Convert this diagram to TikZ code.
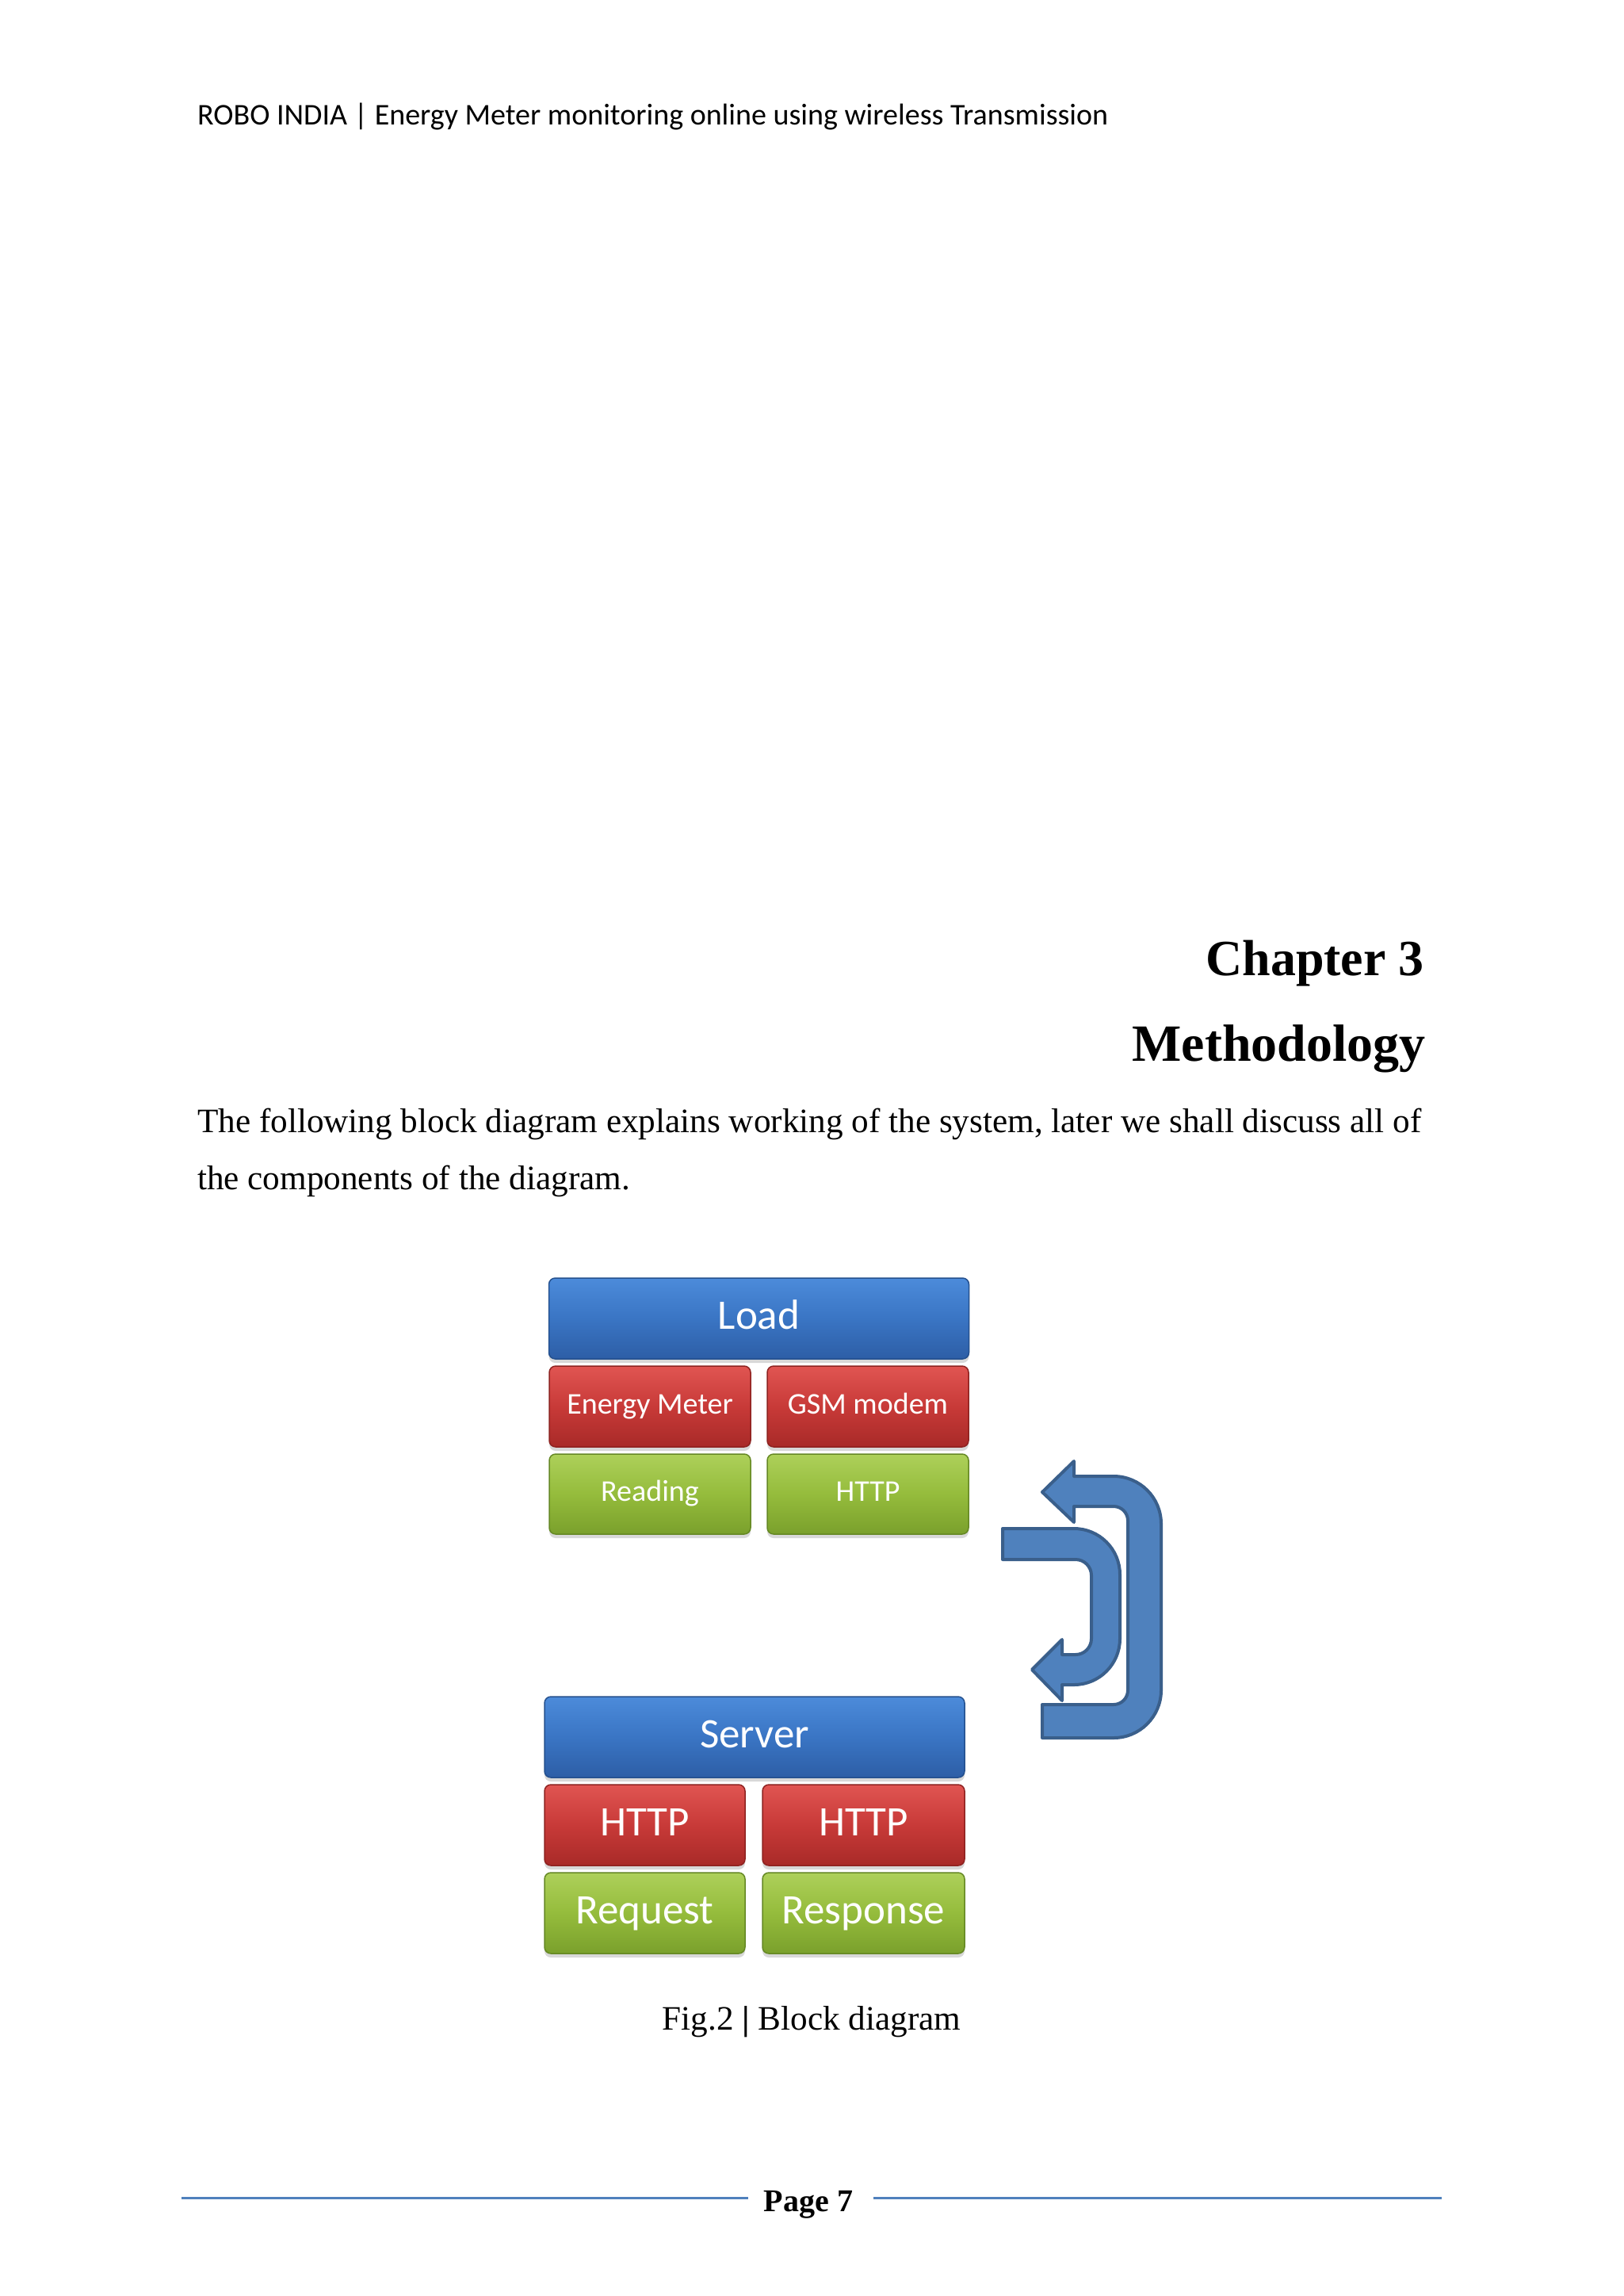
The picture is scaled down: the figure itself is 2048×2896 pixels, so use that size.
\documentclass[tikz,border=0pt]{standalone}
\usepackage{fontspec}
\setmainfont{Liberation Serif}
\newfontfamily\calibri{Carlito}
\usetikzlibrary{shadows}
\definecolor{arrowfill}{HTML}{4F81BD}
\definecolor{arrowdraw}{HTML}{3A5F8B}
\definecolor{bluetop}{HTML}{4C8BDA}
\definecolor{bluemid}{HTML}{3A75C4}
\definecolor{bluebot}{HTML}{2D5EA6}
\definecolor{blueline}{HTML}{24508E}
\definecolor{redtop}{HTML}{E05552}
\definecolor{redmid}{HTML}{C83A38}
\definecolor{redbot}{HTML}{A82A28}
\definecolor{redline}{HTML}{8E2220}
\definecolor{greentop}{HTML}{ADD05A}
\definecolor{greenmid}{HTML}{95BC3C}
\definecolor{greenbot}{HTML}{7AA02C}
\definecolor{greenline}{HTML}{658824}
\definecolor{ruleblue}{HTML}{4F81BD}
\tikzset{
  boxbase/.style={rounded corners=8pt, line width=1.5pt, inner sep=0pt,
    text=white, drop shadow={shadow xshift=0pt, shadow yshift=-5pt, opacity=0.3}},
  bluebox/.style={boxbase, draw=blueline, top color=bluetop, bottom color=bluebot, middle color=bluemid},
  redbox/.style={boxbase, draw=redline, top color=redtop, bottom color=redbot, middle color=redmid},
  greenbox/.style={boxbase, draw=greenline, top color=greentop, bottom color=greenbot, middle color=greenmid},
  bigtxt/.style={font=\calibri\fontsize{53}{60}\selectfont, text height=37pt, text depth=11pt},
  smalltxt/.style={font=\calibri\fontsize{38}{44}\selectfont, text height=26.5pt, text depth=8pt},
  uarrow/.style={fill=arrowfill, draw=arrowdraw, line width=4pt, line join=round},
  pagetext/.style={inner sep=0pt},
  bodyfont/.style={font=\fontsize{43.2}{50}\selectfont},
}
\begin{document}
\begin{tikzpicture}[x=1pt,y=-1pt]
\useasboundingbox (0,0) rectangle (2048,2896);
\fill[white] (0,0) rectangle (2048,2896);

% header
\node[pagetext, anchor=base west, font=\calibri\fontsize{38}{45}\selectfont] (hdr) at (249,157)
  {ROBO INDIA | Energy Meter monitoring online using wireless Transmission};

% chapter title
\node[pagetext, anchor=base east, font=\bfseries\fontsize{64}{70}\selectfont] (chap) at (1797,1230) {Chapter 3};
\node[pagetext, anchor=base east, font=\bfseries\fontsize{66}{72}\selectfont] (meth) at (1799,1338) {Methodology};

% body text
\node[pagetext, bodyfont, anchor=base west] (body1) at (249,1428)
  {The following block diagram explains working of the system, later we shall discuss all of};
\node[pagetext, bodyfont, anchor=base west] (body2) at (249,1500)
  {the components of the diagram.};

% upper block group
\node[bluebox, bigtxt, minimum width=530pt, minimum height=102pt] (load) at (957.5,1663) {Load};
\node[redbox, smalltxt, minimum width=254pt, minimum height=102pt] (em) at (820,1774) {Energy Meter};
\node[redbox, smalltxt, minimum width=254pt, minimum height=102pt] (gsm) at (1095,1774) {GSM modem};
\node[greenbox, smalltxt, minimum width=254pt, minimum height=101pt] (rd) at (820,1884.5) {Reading};
\node[greenbox, smalltxt, minimum width=254pt, minimum height=101pt] (http1) at (1095,1884.5) {HTTP};

% lower block group
\node[bluebox, bigtxt, minimum width=530pt, minimum height=102pt] (server) at (952,2191) {Server};
\node[redbox, bigtxt, minimum width=253pt, minimum height=102pt] (http2) at (813.5,2302) {HTTP};
\node[redbox, bigtxt, minimum width=255pt, minimum height=102pt] (http3) at (1089.5,2302) {HTTP};
\node[greenbox, bigtxt, minimum width=253pt, minimum height=102pt] (req) at (813.5,2413) {Request};
\node[greenbox, bigtxt, minimum width=255pt, minimum height=102pt] (resp) at (1089.5,2413) {Response};

% outer U-turn arrow (tail bottom-left, head top-left)
\draw[uarrow] (1315,2192) -- (1405,2192)
  .. controls (1438.1,2192) and (1465,2165.1) .. (1465,2132)
  -- (1465,1922)
  .. controls (1465,1888.9) and (1438.1,1862) .. (1405,1862)
  -- (1355,1862) -- (1355,1843) -- (1315,1882) -- (1355,1920) -- (1355,1900)
  -- (1405,1900)
  .. controls (1414.9,1900) and (1423,1908.1) .. (1423,1918)
  -- (1423,2132)
  .. controls (1423,2141.9) and (1414.9,2150) .. (1405,2150)
  -- (1315,2150) -- cycle;

% inner U-turn arrow (tail top-left, head bottom-left)
\draw[uarrow] (1265,1928) -- (1355,1928)
  .. controls (1387,1928) and (1413,1954) .. (1413,1986)
  -- (1413,2067)
  .. controls (1413,2099) and (1387,2125) .. (1355,2125)
  -- (1340,2125) -- (1340,2145) -- (1302,2106) -- (1340,2068) -- (1340,2087)
  -- (1357,2087)
  .. controls (1368,2087) and (1377,2078) .. (1377,2067)
  -- (1377,1987)
  .. controls (1377,1976) and (1368,1967) .. (1357,1967)
  -- (1265,1967) -- cycle;

% caption
\node[pagetext, bodyfont, anchor=base] (cap) at (1024,2560)
  {Fig.2 \textbf{|} Block diagram};

% footer
\node[pagetext, anchor=base, font=\bfseries\fontsize{40}{48}\selectfont] (pg) at (1020,2789) {Page 7};
\coordinate (fl1) at (229,2772);
\coordinate (fl2) at (944,2772);
\coordinate (fr1) at (1102,2772);
\coordinate (fr2) at (1819,2772);
\draw[ruleblue, line width=3pt] (fl1) -- (fl2);
\draw[ruleblue, line width=3pt] (fr1) -- (fr2);
\end{tikzpicture}
\end{document}
